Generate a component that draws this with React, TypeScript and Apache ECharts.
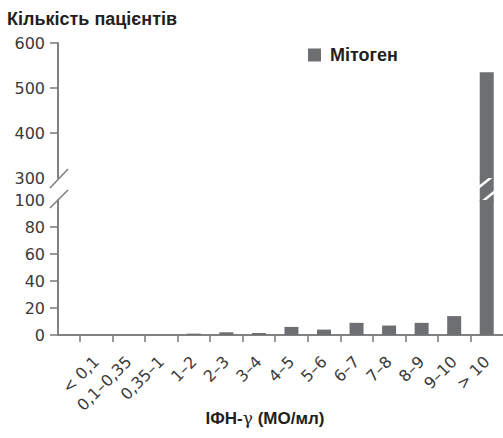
import React, { useEffect, useRef } from "react";
import * as echarts from "echarts";

const categories = ["< 0,1", "0,1–0,35", "0,35–1", "1–2", "2–3", "3–4", "4–5", "5–6", "6–7", "7–8", "8–9", "9–10", "> 10"];
const patients = [0, 0, 0, 1, 2, 1.5, 6, 4, 9, 7, 9, 14, 535];
const lowerYLabels = [0, 20, 40, 60, 80, 100];
const lowerYTicks = [0, 20, 40, 60, 80];
const upperYLabels = [300, 400, 500, 600];
const upperYTicks = [400, 500, 600];
const seriesName = "Мітоген";
const yTitle = "Кількість пацієнтів";

const BAR = "#6e6f72";
const AXIS = "#808080";
const TXT = "#3a3a3a";

export default function App() {
  const ref = useRef<HTMLDivElement>(null);
  useEffect(() => {
    document.body.style.margin = "0";
    const chart = echarts.init(ref.current as HTMLDivElement, null, { renderer: "svg" });
    const xMin = -0.674;
    const xMax = categories.length;
    const lowerMin = lowerYLabels[0];
    const lowerMax = lowerYLabels[lowerYLabels.length - 1];
    const upperMin = upperYLabels[0];
    const upperMax = upperYLabels[upperYLabels.length - 1];
    const yLabelStyle = { fontFamily: "DejaVu Sans", fontSize: 16, color: TXT, margin: 13 };
    const line = { show: true, onZero: false, lineStyle: { color: AXIS, width: 2 } };
    const tick = (len: number, values: number[]) => ({ show: true, length: len, customValues: values, lineStyle: { color: AXIS, width: 1.6 } });

    const option: any = {
      animation: false,
      title: {
        text: yTitle,
        left: 7,
        top: 10,
        padding: 0,
        textStyle: { fontFamily: "Liberation Sans", fontWeight: "bold", fontSize: 18, color: "#231f20" },
      },
      legend: {
        data: [seriesName],
        left: 308,
        top: 46,
        padding: 0,
        icon: "rect",
        itemWidth: 13,
        itemHeight: 13,
        textStyle: { fontFamily: "Liberation Sans", fontWeight: "bold", fontSize: 18, color: "#231f20", padding: [0, 0, 0, 4] },
      },
      grid: [
        { left: 58, right: -1.6, top: 200, bottom: 103 },
        { left: 58, right: -1.6, top: 43, height: 135 },
      ],
      xAxis: [
        {
          type: "value",
          gridIndex: 0,
          min: xMin,
          max: xMax,
          splitLine: { show: false },
          axisLine: line,
          axisTick: tick(7, categories.map((_, i) => i)),
          axisLabel: {
            show: true,
            customValues: categories.map((_, i) => i + 0.5),
            formatter: (v: number) => categories[Math.floor(v)] ?? "",
            rotate: 45,
            margin: 24,
            fontFamily: "DejaVu Sans",
            fontSize: 16,
            color: TXT,
          },
        },
        { type: "value", gridIndex: 1, min: xMin, max: xMax, show: false },
      ],
      yAxis: [
        {
          type: "value",
          gridIndex: 0,
          min: lowerMin,
          max: lowerMax,
          interval: 20,
          splitLine: { show: false },
          axisLine: line,
          axisTick: tick(8, lowerYTicks),
          axisLabel: { ...yLabelStyle, customValues: lowerYLabels },
        },
        {
          type: "value",
          gridIndex: 1,
          min: upperMin,
          max: upperMax,
          interval: 100,
          splitLine: { show: false },
          axisLine: line,
          axisTick: tick(8, upperYTicks),
          axisLabel: { ...yLabelStyle, customValues: upperYLabels },
        },
      ],
      series: [
        {
          name: seriesName,
          type: "bar",
          xAxisIndex: 0,
          yAxisIndex: 0,
          barWidth: 14,
          clip: true,
          itemStyle: { color: BAR },
          data: patients.map((v, i) => [i + 0.5, v]),
        },
        {
          name: seriesName,
          type: "bar",
          xAxisIndex: 1,
          yAxisIndex: 1,
          barWidth: 14,
          clip: true,
          itemStyle: { color: BAR },
          data: patients.map((v, i) => [i + 0.5, v > upperMin ? v : null]),
        },
      ],
    };
    chart.setOption(option);

    const lo = { xAxisIndex: 0, yAxisIndex: 0 };
    const up = { xAxisIndex: 1, yAxisIndex: 1 };
    const graphics: any[] = [
      {
        type: "text",
        id: "xname",
        x: 265,
        y: 418,
        style: {
          text: "{b|ІФН-}{g|γ}{b| (МО/мл)}",
          align: "center",
          verticalAlign: "middle",
          rich: {
            b: { fontFamily: "Liberation Sans", fontWeight: "bold", fontSize: 17, fill: "#231f20" },
            g: { fontFamily: "DejaVu Serif", fontSize: 17, fill: "#231f20" },
          },
        },
      },
    ];

    // broken-axis marks, positioned through the library's scales
    const brokenIdx = patients.findIndex((v) => v > lowerMax);
    const [ax, yLowTop] = chart.convertToPixel(lo, [xMin, lowerMax]) as number[];
    const [, yUpBottom] = chart.convertToPixel(up, [xMin, upperMin]) as number[];
    graphics.push(
      { type: "line", id: "s1", shape: { x1: ax - 8, y1: yUpBottom + 10, x2: ax + 10, y2: yUpBottom - 9 }, style: { stroke: AXIS, lineWidth: 1.6 } },
      { type: "line", id: "s2", shape: { x1: ax - 8, y1: yLowTop + 8, x2: ax + 10, y2: yLowTop - 10 }, style: { stroke: AXIS, lineWidth: 1.6 } }
    );
    if (brokenIdx >= 0) {
      const [bx] = chart.convertToPixel(lo, [brokenIdx + 0.5, lowerMax]) as number[];
      graphics.push(
        { type: "rect", id: "gapbar", shape: { x: bx - 7, y: yUpBottom - 1, width: 14, height: yLowTop - yUpBottom + 2 }, style: { fill: BAR } },
        { type: "line", id: "w1", shape: { x1: bx - 10, y1: yUpBottom + 11, x2: bx + 10, y2: yUpBottom - 5 }, style: { stroke: "#ffffff", lineWidth: 2.5 } },
        { type: "line", id: "w2", shape: { x1: bx - 10, y1: yLowTop + 6, x2: bx + 10, y2: yLowTop - 10 }, style: { stroke: "#ffffff", lineWidth: 2.5 } }
      );
    }
    chart.setOption({ graphic: graphics });
    return () => chart.dispose();
  }, []);
  return <div ref={ref} style={{ width: 503, height: 438, position: "absolute", left: 0, top: 0 }} />;
}
